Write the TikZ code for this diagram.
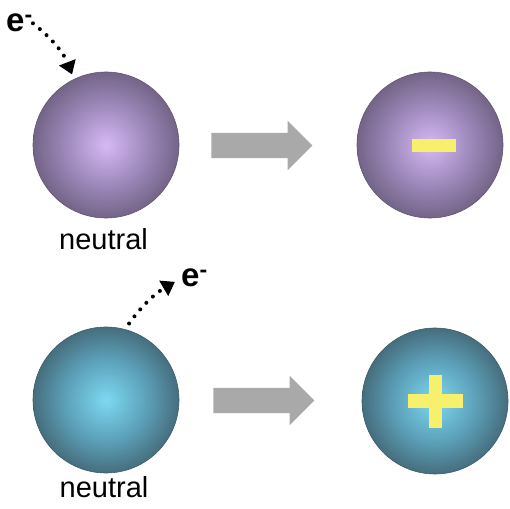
\documentclass[tikz,border=0pt]{standalone}
\usepackage{fontspec}
\setmainfont{Liberation Sans}
\usepackage{tikz}
\usetikzlibrary{
  positioning, arrows.meta,
  shapes.arrows, calc
}
\definecolor{purpin}{HTML}{D6B9F4}
\definecolor{purpmid}{HTML}{9985B6}
\definecolor{purpout}{HTML}{746487}
\definecolor{tealin}{HTML}{7CD9F2}
\definecolor{tealmid}{HTML}{5A9CB4}
\definecolor{tealout}{HTML}{466E7D}
\definecolor{chargeyellow}{HTML}{F6F06C}
\definecolor{blockgray}{HTML}{A9A9A9}
\pgfdeclareradialshading{purplesphere}{\pgfpoint{0bp}{0bp}}{color(0bp)=(purpin); color(15bp)=(purpmid); color(25bp)=(purpout); color(50bp)=(purpout)}
\pgfdeclareradialshading{tealsphere}{\pgfpoint{0bp}{0bp}}{color(0bp)=(tealin); color(15bp)=(tealmid); color(25bp)=(tealout); color(50bp)=(tealout)}
\tikzset{
  sphere/.style={circle, minimum size=146pt, inner sep=0pt, draw=#1out!85!black, line width=0.6pt},
  charge/.style={rectangle, fill=chargeyellow, inner sep=0pt},
  blockarrow/.style={single arrow, fill=blockgray, inner sep=0pt, text height=25pt, text depth=0pt,
    minimum height=101pt, single arrow head extend=12pt},
  electron/.style={line width=4pt, line cap=round, dash pattern=on 0pt off 9pt,
    -{Triangle[length=13pt,width=17pt]}},
  lbl/.style={font=\fontsize{29}{32}\selectfont, inner sep=0pt},
  elbl/.style={font=\fontsize{33}{36}\selectfont\bfseries, inner sep=0pt}
}

\begin{document}
\begin{tikzpicture}[x=1pt,y=1pt]
      \useasboundingbox (0,0) rectangle (510,508);
      % top row: gains an electron
      \node[sphere=purp, shading=purplesphere] (n1) at (106,363) {};
      \node[sphere=purp, shading=purplesphere] (neg) at (430,363) {};
      \node[charge, minimum width=44pt, minimum height=13pt] (minus) at (434,362.5) {};
      \node[blockarrow] (a1) at (255.5,362.5) {};
      \node[lbl, anchor=base] (t1) at (103.5,258) {neutral};
      \node[elbl, anchor=base west] (e1) at (6,476) {e\textsuperscript{-}};
      \draw[electron, shorten >=5pt] (e1.east) to[bend left=15] (n1.116);
      % bottom row: loses an electron
      \node[sphere=teal, shading=tealsphere] (n2) at (106,108) {};
      \node[sphere=teal, shading=tealsphere] (pos) at (435,107) {};
      \node[charge, minimum width=55pt, minimum height=14pt] (plush) at (435.5,107) {};
      \node[charge, minimum width=13pt, minimum height=53pt] (plusv) at (435.5,106.5) {};
      \node[blockarrow] (a2) at (257.5,107.5) {};
      \node[lbl, anchor=base] (t2) at (104,11) {neutral};
      \node[elbl, anchor=base west] (e2) at (181,221) {e\textsuperscript{-}};
      \draw[electron, shorten <=7pt, shorten >=7pt] (n2.75) to[bend left=12] (e2.west);
    \end{tikzpicture}
\end{document}
